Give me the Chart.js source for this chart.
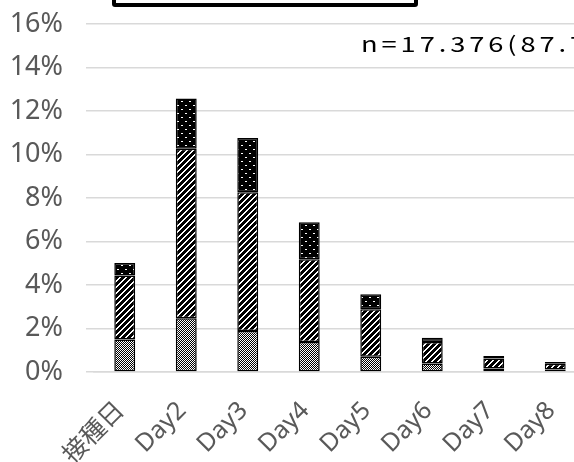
<!DOCTYPE html>
<html>
<head>
<meta charset="utf-8">
<script src="https://cdn.jsdelivr.net/npm/chart.js@4"></script>
<style>
  html, body { margin: 0; padding: 0; background: #fff; overflow: hidden; width: 574px; height: 462px; }
  #wrap { position: relative; width: 574px; height: 462px; overflow: hidden; }
  #legendBox { position: absolute; left: 112px; top: -40px; width: 306px; height: 47px;
    box-sizing: border-box; border: 4px solid #000; border-radius: 3px; background: #fff; }
  #note { position: absolute; left: 361px; top: 28px; font-family: "Noto Sans CJK JP", sans-serif;
    font-size: 21px; color: #000; white-space: nowrap; transform: scaleX(1.3); transform-origin: left top;
    letter-spacing: 3px; }
</style>
</head>
<body>
<div id="wrap">
  <canvas id="bar-chart" width="592" height="462"></canvas>
  <div id="legendBox"></div>
  <div id="note">n=17.376(87.7%)</div>
</div>
<script>
var days = ['接種日', 'Day2', 'Day3', 'Day4', 'Day5', 'Day6', 'Day7', 'Day8'];
var mild = [1.5, 2.47, 1.88, 1.38, 0.7, 0.39, 0.16, 0.12];
var moderate = [2.94, 7.8, 6.39, 3.8, 2.19, 0.99, 0.46, 0.26];
var severe = [0.57, 2.3, 2.49, 1.7, 0.69, 0.2, 0.12, 0.08];
var yTicks = [0, 2, 4, 6, 8, 10, 12, 14, 16];

// build a repeating tile pixel by pixel (white where isWhite says so)
function makePattern(w, h, isWhite) {
    var c = document.createElement('canvas');
    c.width = w; c.height = h;
    var p = c.getContext('2d');
    for (var y = 0; y < h; y++) {
        for (var x = 0; x < w; x++) {
            p.fillStyle = isWhite(x, y) ? '#fff' : '#000';
            p.fillRect(x, y, 1, 1);
        }
    }
    return p.createPattern(c, 'repeat');
}

var checker = makePattern(2, 2, function(x, y) { return (x + y) % 2 == 0; });
var stripes = makePattern(6, 6, function(x, y) { return (x + y) % 6 < 2; });
var dots = makePattern(8, 8, function(x, y) {
    return (x == 1 && y == 1) || (x == 2 && y == 1) || (x == 5 && y == 5) || (x == 6 && y == 5);
});

var ctx = document.getElementById('bar-chart').getContext('2d');

var graphData = {
    type: 'bar',
    data: {
        labels: days,
        datasets: [
            { label: '37.5〜37.9℃', data: mild, backgroundColor: checker },
            { label: '38.0〜38.9℃', data: moderate, backgroundColor: stripes },
            { label: '39.0℃以上', data: severe, backgroundColor: dots }
        ].map(function(d) {
            d.borderColor = '#000';
            d.borderWidth = 1.5;
            d.borderSkipped = false;
            d.barPercentage = 0.34;
            d.categoryPercentage = 1;
            return d;
        })
    },
    options: {
        responsive: false,
        animation: false,
        devicePixelRatio: 1,
        layout: { padding: { left: 0, right: 6, top: 24, bottom: 0 } },
        plugins: { legend: { display: false }, tooltip: { enabled: false } },
        scales: {
            x: {
                stacked: true,
                grid: { display: false, drawTicks: false },
                border: { display: true, color: '#d9d9d9', width: 1.5 },
                ticks: {
                    color: '#595959',
                    font: { family: '"Noto Sans", "Noto Sans CJK JP", sans-serif', size: 25 },
                    minRotation: 45, maxRotation: 45, padding: 24, labelOffset: -4
                },
                afterFit: function(s) {
                    s.height = 90;
                    s.paddingLeft = 0;
                    s.paddingRight = 0;
                }
            },
            y: {
                stacked: true,
                min: 0, max: 16,
                afterBuildTicks: function(axis) {
                    axis.ticks = yTicks.map(function(v) { return { value: v }; });
                },
                grid: { color: '#d9d9d9', lineWidth: 1.5, drawTicks: true, tickLength: 8 },
                border: { display: false },
                ticks: {
                    color: '#595959',
                    padding: 23,
                    font: { family: '"Noto Sans", sans-serif', size: 27 },
                    callback: function(v) { return v + '%'; }
                },
                afterFit: function(s) {
                    s.width = 94;
                    s.paddingTop = 0;
                    s.paddingBottom = 0;
                }
            }
        }
    }
};

var myChart = new Chart(ctx, graphData);
</script>
</body>
</html>
